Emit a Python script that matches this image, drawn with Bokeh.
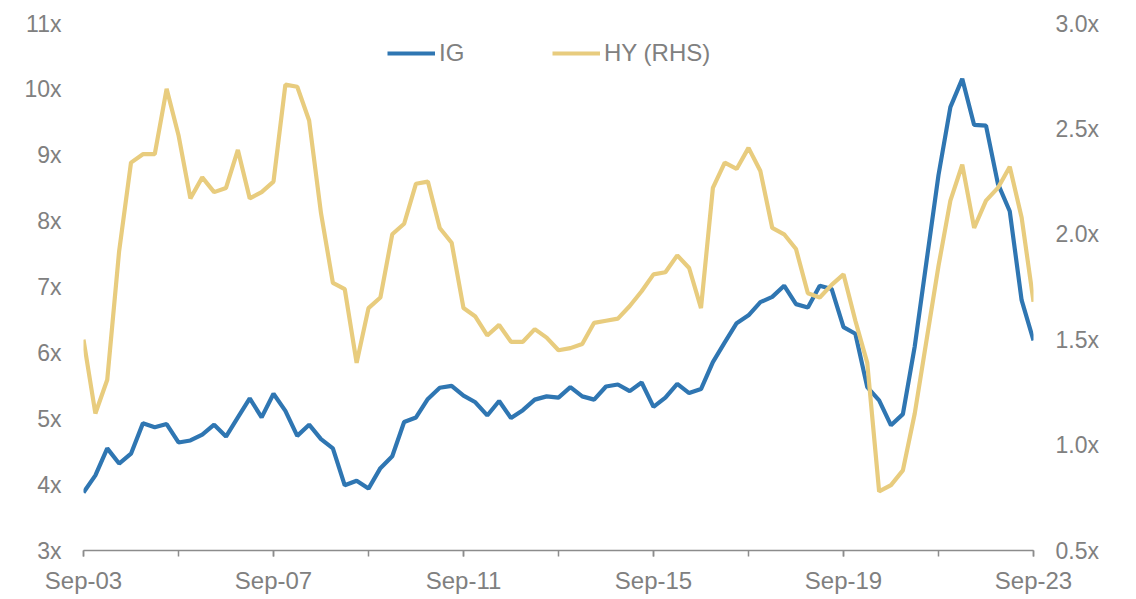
from bokeh.plotting import figure
from bokeh.models import (Range1d, LinearAxis, FixedTicker, PrintfTickFormatter,
                          Legend, LegendItem, ColumnDataSource)
from bokeh.embed import file_html
from bokeh.resources import INLINE

# Quarterly observations, Sep-03 .. Sep-23
MONTHS = ["Sep", "Dec", "Mar", "Jun"]
labels = []
year = 2003
for k in range(81):
    m = MONTHS[k % 4]
    if m == "Mar":
        year += 1
    labels.append(f"{m}-{year % 100:02d}")

ig = [3.88, 4.14, 4.55, 4.32, 4.47, 4.93, 4.87, 4.92, 4.64, 4.67,
      4.76, 4.91, 4.73, 5.02, 5.31, 5.02, 5.38, 5.12, 4.74, 4.91,
      4.69, 4.55, 3.99, 4.06, 3.94, 4.25, 4.43, 4.95, 5.02, 5.30,
      5.47, 5.50, 5.35, 5.25, 5.05, 5.27, 5.01, 5.13, 5.29, 5.34,
      5.32, 5.48, 5.34, 5.29, 5.49, 5.52, 5.42, 5.55, 5.18, 5.32,
      5.53, 5.39, 5.45, 5.86, 6.16, 6.45, 6.57, 6.77, 6.85, 7.02,
      6.74, 6.69, 7.02, 6.97, 6.39, 6.29, 5.48, 5.28, 4.90, 5.07,
      6.10, 7.40, 8.70, 9.73, 10.16, 9.46, 9.45, 8.57, 8.15, 6.80,
      6.19]

hy = [1.50, 1.15, 1.31, 1.92, 2.34, 2.38, 2.38, 2.69, 2.47, 2.17,
      2.27, 2.20, 2.22, 2.40, 2.17, 2.20, 2.25, 2.71, 2.70, 2.54,
      2.10, 1.77, 1.74, 1.39, 1.65, 1.70, 2.00, 2.05, 2.24, 2.25,
      2.03, 1.96, 1.65, 1.61, 1.52, 1.57, 1.49, 1.49, 1.55, 1.51,
      1.45, 1.46, 1.48, 1.58, 1.59, 1.60, 1.66, 1.73, 1.81, 1.82,
      1.90, 1.84, 1.65, 2.22, 2.34, 2.31, 2.41, 2.30, 2.03, 2.00,
      1.93, 1.72, 1.70, 1.76, 1.81, 1.59, 1.39, 0.78, 0.81, 0.88,
      1.15, 1.50, 1.85, 2.16, 2.33, 2.03, 2.16, 2.22, 2.32, 2.08,
      1.68]

tick_labels = ["Sep-03", "Sep-07", "Sep-11", "Sep-15", "Sep-19", "Sep-23"]
left_ticks = [3, 4, 5, 6, 7, 8, 9, 10, 11]
right_ticks = [0.5, 1.0, 1.5, 2.0, 2.5, 3.0]

IG_COLOR = "#2f76b2"
HY_COLOR = "#e8cc7e"
TEXT = "#808080"
FONT = "Liberation Sans"
FS_Y = "23px"
FS_X = "24px"

x = list(range(len(labels)))
src = ColumnDataSource(dict(x=x, ig=ig, hy=hy, q=labels))

p = figure(width=1128, height=596, output_backend="svg", toolbar_location=None,
           x_range=Range1d(0, len(labels) - 1), y_range=Range1d(3, 11),
           min_border_left=83, min_border_right=95, min_border_top=23,
           min_border_bottom=46)
p.extra_y_ranges = {"rhs": Range1d(0.5, 3.0)}
p.outline_line_color = None
p.xgrid.visible = False
p.ygrid.visible = False
p.background_fill_color = "white"
p.border_fill_color = "white"

r_ig = p.line("x", "ig", source=src, line_color=IG_COLOR, line_width=4.2)
r_hy = p.line("x", "hy", source=src, line_color=HY_COLOR, line_width=4.2,
              y_range_name="rhs")

# x axis
major = [labels.index(t) for t in tick_labels]
minor = [i for i in range(0, len(labels), 8)]
xa = p.xaxis[0]
xa.ticker = FixedTicker(ticks=major, minor_ticks=minor)
xa.major_label_overrides = {i: labels[i] for i in major}
xa.axis_line_color = "#8c8c8c"
xa.axis_line_width = 1.5
xa.major_tick_line_color = "#8c8c8c"
xa.major_tick_line_width = 1.5
xa.minor_tick_line_color = "#8c8c8c"
xa.minor_tick_line_width = 1.5
xa.major_tick_in = 0
xa.major_tick_out = 6
xa.minor_tick_in = 0
xa.minor_tick_out = 6
xa.major_label_standoff = 10
xa.major_label_text_font = FONT
xa.major_label_text_font_size = FS_X
xa.major_label_text_color = TEXT

# left axis
ya = p.yaxis[0]
ya.ticker = FixedTicker(ticks=left_ticks)
ya.formatter = PrintfTickFormatter(format="%dx")
ya.axis_line_color = None
ya.major_tick_line_color = None
ya.minor_tick_line_color = None
ya.major_label_standoff = 16
ya.major_label_text_font = FONT
ya.major_label_text_font_size = FS_Y
ya.major_label_text_color = TEXT

# right axis
ra = LinearAxis(y_range_name="rhs", ticker=FixedTicker(ticks=right_ticks),
                formatter=PrintfTickFormatter(format="%.1fx"))
ra.axis_line_color = None
ra.major_tick_line_color = None
ra.minor_tick_line_color = None
ra.major_label_standoff = 16
ra.major_label_text_font = FONT
ra.major_label_text_font_size = FS_Y
ra.major_label_text_color = TEXT
p.add_layout(ra, "right")

legend = Legend(items=[LegendItem(label="IG", renderers=[r_ig]),
                       LegendItem(label="HY (RHS)", renderers=[r_hy])],
                orientation="horizontal", location=(304, 483),
                glyph_width=48, glyph_height=20, label_width=100,
                label_standoff=4, spacing=13, padding=0, margin=0,
                border_line_color=None, background_fill_alpha=0,
                label_text_font=FONT, label_text_font_size=FS_X,
                label_text_color=TEXT)
p.add_layout(legend, "center")

open("out.html", "w").write(file_html(p, INLINE))
